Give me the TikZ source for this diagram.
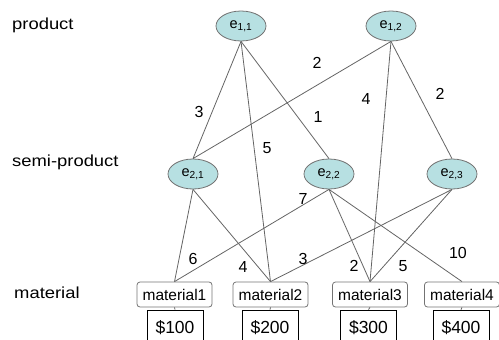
\documentclass[tikz,border=0pt]{standalone}
\usepackage{fontspec}
\setmainfont{Liberation Sans}
\usetikzlibrary{shapes.geometric}
\begin{document}
\begin{tikzpicture}[x=1pt,y=-1pt,
  elem/.style={ellipse,draw=bordergray,line width=0.8pt,fill=ellfill,minimum width=50pt,minimum height=30pt,inner sep=0pt,font=\fontsize{14.5}{16}\selectfont},
  matbox/.style={draw=bordergray,line width=0.8pt,rounded corners=3pt,minimum width=75pt,minimum height=25pt,inner sep=0pt,font=\fontsize{15.5}{17}\selectfont},
  pricebox/.style={draw=black,line width=0.7pt,minimum width=56pt,minimum height=36pt,inner sep=0pt,font=\fontsize{17.5}{19}\selectfont},
  side/.style={anchor=west,font=\fontsize{16}{18}\selectfont,inner sep=0pt},
  wt/.style={font=\fontsize{16}{17}\selectfont,inner sep=0pt},
  conn/.style={draw=linegray,line width=0.8pt}]
\definecolor{ellfill}{RGB}{183,224,226}
\definecolor{linegray}{RGB}{100,100,100}
\definecolor{bordergray}{RGB}{115,115,115}
\useasboundingbox (0,0) rectangle (499,340);
\clip (0,0) rectangle (499,340);
\node[side] (lp) at (12,25) {\addfontfeatures{FakeStretch=1.15}product};
\node[side] (ls) at (12,162) {\addfontfeatures{FakeStretch=1.15}semi-product};
\node[side] (lm) at (14,293) {\addfontfeatures{FakeStretch=1.15}material};
\node[elem] (e11) at (241,26) {e\textsubscript{1,1}};
\node[elem] (e12) at (391,26) {e\textsubscript{1,2}};
\node[elem] (e21) at (193,174) {e\textsubscript{2,1}};
\node[elem] (e22) at (329,174) {e\textsubscript{2,2}};
\node[elem] (e23) at (452,174) {e\textsubscript{2,3}};
\node[matbox] (m1) at (174.5,294.5) {material1};
\node[matbox] (m2) at (270.5,294.5) {material2};
\node[matbox] (m3) at (370,294.5) {material3};
\node[matbox] (m4) at (462,294.5) {material4};
\node[pricebox] (p1) at (175,328) {\$100};
\node[pricebox] (p2) at (270,328) {\$200};
\node[pricebox] (p3) at (368.5,328) {\$300};
\node[pricebox] (p4) at (461,328) {\$400};
\foreach \i in {1,2,3,4} \draw[conn] (m\i.south) -- (p\i.north);
\draw[conn] (e11.south) -- (e21.north);
\draw[conn] (e11.south) -- (m2.north);
\draw[conn] (e11.south) -- (e22.north);
\draw[conn] (e12.south) -- (e21.north);
\draw[conn] (e12.south) -- (m3.north);
\draw[conn] (e12.south) -- (e23.north);
\draw[conn] (e21.south) -- (m1.north);
\draw[conn] (e21.south) -- (m2.north);
\draw[conn] (e22.south) -- (m1.north);
\draw[conn] (e22.south) -- (m3.north);
\draw[conn] (e22.south) -- (m4.north);
\draw[conn] (e23.south) -- (m2.north);
\draw[conn] (e23.south) -- (m3.north);
\node[wt] (w1) at (199,112) {3};
\node[wt] (w2) at (267,148) {5};
\node[wt] (w3) at (318,117) {1};
\node[wt] (w4) at (317,63) {2};
\node[wt] (w5) at (366,99) {4};
\node[wt] (w6) at (440,94) {2};
\node[wt] (w7) at (303,199) {7};
\node[wt] (w8) at (193,259) {6};
\node[wt] (w9) at (243,267) {4};
\node[wt] (w10) at (303,259) {3};
\node[wt] (w11) at (354,266) {2};
\node[wt] (w12) at (403,266) {5};
\node[wt] (w13) at (458,253) {10};
\end{tikzpicture}
\end{document}
